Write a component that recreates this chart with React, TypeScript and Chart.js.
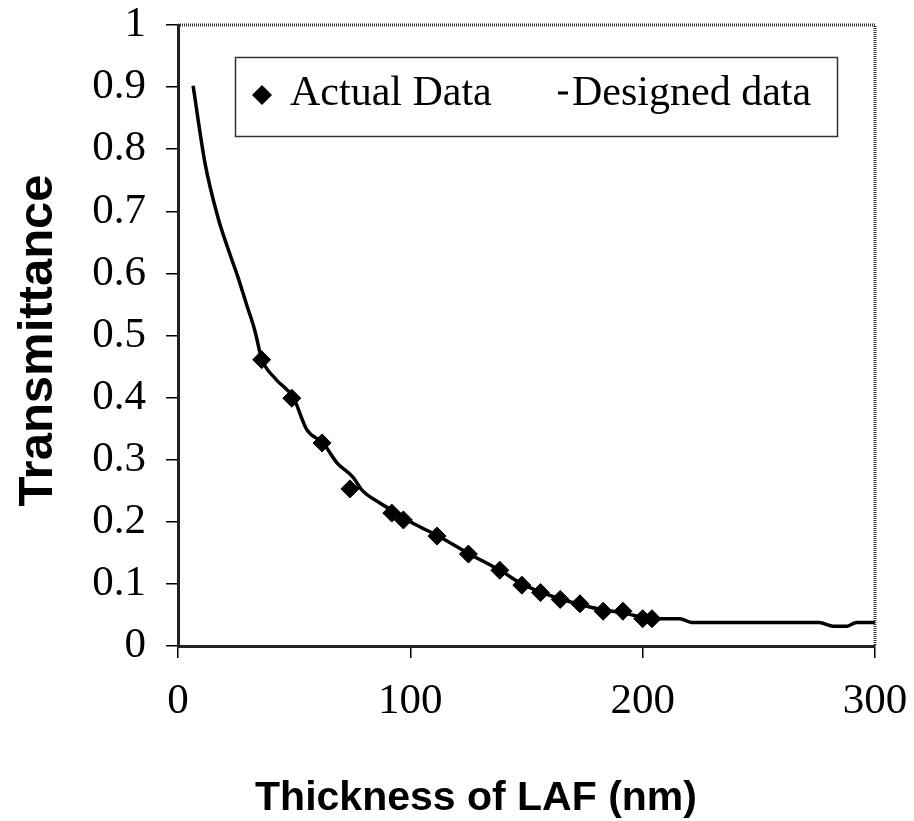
import React, { useEffect, useRef } from 'react';
import { Chart, registerables } from 'chart.js';

Chart.register(...registerables);

// ---- Data ----
const xTickValues = [0, 100, 200, 300];
const yTickValues = [0, 0.1, 0.2, 0.3, 0.4, 0.5, 0.6, 0.7, 0.8, 0.9, 1];

const seriesLabels = ['Actual Data', 'Designed data'];
const xAxisTitle = 'Thickness of LAF (nm)';
const yAxisTitle = 'Transmittance';

const actualX = [36, 49, 62, 74, 92, 97, 111.5, 125, 138.5, 148, 156, 164.5, 173, 183, 191.5, 200, 204];
const actualY = [0.461, 0.399, 0.327, 0.253, 0.214, 0.203, 0.177, 0.148, 0.122, 0.098, 0.086, 0.075, 0.068, 0.056, 0.056, 0.044, 0.044];

const designX = [6.5, 11.6, 17.2, 21.5, 25.8, 29.5, 33, 36, 42, 49.5, 55.5, 62.4, 68.4, 75.3, 79.2, 87, 94.3, 100, 112, 125, 139, 148, 156, 165, 173, 183, 191, 200, 205, 210, 216, 221, 230, 250, 276, 282, 288, 292, 300];
const designY = [0.902, 0.778, 0.69, 0.64, 0.594, 0.55, 0.509, 0.463, 0.43, 0.401, 0.348, 0.327, 0.295, 0.272, 0.251, 0.23, 0.214, 0.2, 0.177, 0.149, 0.121, 0.1, 0.087, 0.075, 0.067, 0.058, 0.054, 0.046, 0.044, 0.044, 0.044, 0.038, 0.038, 0.038, 0.038, 0.032, 0.032, 0.038, 0.038];

const SERIF = "'Liberation Serif', 'Times New Roman', serif";
const SANS = "'Liberation Sans', Arial, sans-serif";

const overlayPlugin = {
  id: 'overlay',
  afterDraw(chart: any) {
    const ctx = chart.ctx as CanvasRenderingContext2D;
    const ca = chart.chartArea;
    ctx.save();

    // top and right frame (hatched look)
    ctx.strokeStyle = '#333';
    ctx.lineWidth = 3;
    ctx.setLineDash([1, 1]);
    ctx.beginPath();
    ctx.moveTo(ca.left, ca.top);
    ctx.lineTo(ca.right, ca.top);
    ctx.lineTo(ca.right, ca.bottom);
    ctx.stroke();
    ctx.setLineDash([]);

    // legend box
    const lx = ca.left + 57;
    const ly = ca.top + 32;
    const lw = 602;
    const lh = 79;
    ctx.fillStyle = '#fff';
    ctx.fillRect(lx, ly, lw, lh);
    ctx.strokeStyle = '#333';
    ctx.lineWidth = 1.5;
    ctx.strokeRect(lx + 0.5, ly + 0.5, lw, lh);

    const ds = chart.data.datasets;
    // diamond marker
    const mx = lx + 27;
    const my = ly + 38;
    ctx.fillStyle = '#000';
    ctx.beginPath();
    ctx.moveTo(mx - 10, my);
    ctx.lineTo(mx, my - 10);
    ctx.lineTo(mx + 10, my);
    ctx.lineTo(mx, my + 10);
    ctx.closePath();
    ctx.fill();

    ctx.font = `42px ${SERIF}`;
    ctx.textAlign = 'left';
    ctx.textBaseline = 'alphabetic';
    ctx.fillText(ds[0].label, lx + 55, ly + 48);

    // line sample for design series
    ctx.strokeStyle = '#000';
    ctx.lineWidth = 3;
    ctx.beginPath();
    ctx.moveTo(lx + 323, ly + 36);
    ctx.lineTo(lx + 333, ly + 36);
    ctx.stroke();
    ctx.fillText(ds[1].label, lx + 337, ly + 48);

    // axis titles
    ctx.fillStyle = '#000';
    ctx.font = `bold 41px ${SANS}`;
    ctx.textAlign = 'center';
    ctx.fillText(xAxisTitle, 476, ca.bottom + 164);

    ctx.font = `bold 49px ${SANS}`;
    ctx.translate(52, (ca.top + ca.bottom) / 2 + 5);
    ctx.rotate(-Math.PI / 2);
    ctx.fillText(yAxisTitle, 0, 0);
    ctx.restore();
  },
};

export default function App() {
  const ref = useRef<HTMLCanvasElement | null>(null);

  useEffect(() => {
    if (!ref.current) return;
    const chart = new Chart(ref.current, {
      type: 'scatter',
      data: {
        datasets: [
          {
            label: seriesLabels[0],
            data: actualX.map((x, i) => ({ x, y: actualY[i] })),
            pointStyle: 'rectRot',
            pointRadius: 9,
            pointBackgroundColor: '#000',
            pointBorderColor: '#000',
            pointBorderWidth: 1,
            showLine: false,
            order: 0,
          },
          {
            label: seriesLabels[1],
            data: designX.map((x, i) => ({ x, y: designY[i] })),
            showLine: true,
            borderColor: '#000',
            borderWidth: 3.5,
            pointRadius: 0,
            cubicInterpolationMode: 'monotone',
            order: 1,
          } as any,
        ],
      },
      options: {
        responsive: false,
        animation: false,
        layout: { padding: { left: 0, top: 25, right: 39, bottom: 0 } },
        plugins: {
          legend: { display: false },
          tooltip: { enabled: false },
        },
        scales: {
          x: {
            type: 'linear',
            min: 0,
            max: 300,
            afterBuildTicks: (scale: any) => {
              scale.ticks = xTickValues.map((v) => ({ value: v }));
            },
            afterFit: (scale: any) => {
              scale.height = 175;
              scale.paddingLeft = 0;
              scale.paddingRight = 0;
            },
            ticks: {
              color: '#000',
              font: { family: SERIF, size: 43 },
              padding: 18,
              maxRotation: 0,
              callback: (v: any) => String(v),
            },
            grid: {
              display: true,
              drawOnChartArea: false,
              drawTicks: true,
              tickLength: 12,
              color: '#000',
              lineWidth: 1.5,
            },
            border: { display: true, color: '#222', width: 3 },
          },
          y: {
            type: 'linear',
            min: 0,
            max: 1,
            afterBuildTicks: (scale: any) => {
              scale.ticks = yTickValues.map((v) => ({ value: v }));
            },
            afterFit: (scale: any) => {
              scale.width = 178;
              scale.paddingTop = 0;
              scale.paddingBottom = 0;
            },
            ticks: {
              color: '#000',
              font: { family: SERIF, size: 43 },
              padding: 20,
              callback: (v: any) => String(Number(Number(v).toFixed(1))),
            },
            grid: {
              display: true,
              drawOnChartArea: false,
              drawTicks: true,
              tickLength: 12,
              color: '#000',
              lineWidth: 1.5,
            },
            border: { display: true, color: '#222', width: 3 },
          },
        },
      },
      plugins: [overlayPlugin],
    });
    return () => chart.destroy();
  }, []);

  return (
    <div style={{ position: 'absolute', left: 0, top: 0, width: 914, height: 821, background: '#fff' }}>
      <canvas ref={ref} width={914} height={821} style={{ display: 'block' }} />
    </div>
  );
}
